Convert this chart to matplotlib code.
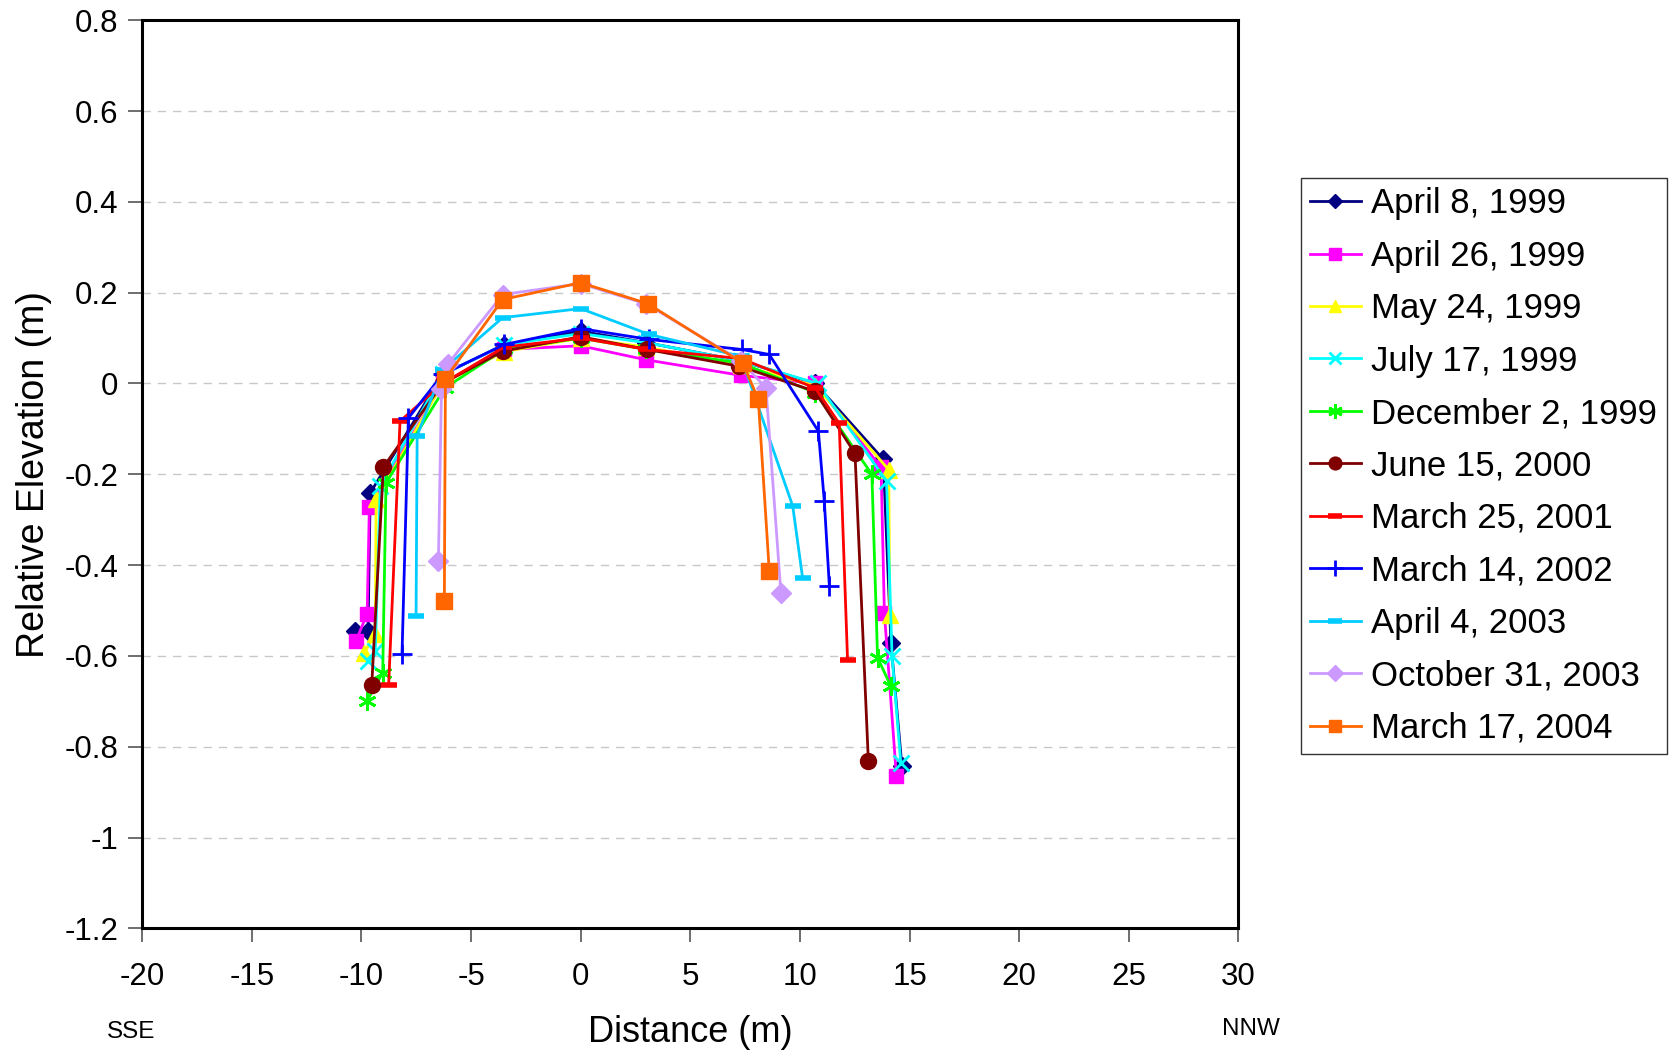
import matplotlib
matplotlib.use("Agg")
import matplotlib.pyplot as plt

plt.rcParams["font.family"] = ["Liberation Sans", "DejaVu Sans"]
plt.rcParams["axes.unicode_minus"] = False

# survey profiles: distance (m) and relative elevation (m)
apr8_1999_x = [-10.3, -9.7, -9.6, -6.3, -3.5, 0, 3, 7.3, 10.7, 13.8, 14.15, 14.65]
apr8_1999_y = [-0.546, -0.546, -0.241, 0.02, 0.085, 0.115, 0.09, 0.05, 0.0, -0.167, -0.571, -0.843]

apr26_1999_x = [-10.25, -9.74, -9.64, -6.3, -3.5, 0, 3, 7.3, 10.7, 13.7, 13.85, 14.4]
apr26_1999_y = [-0.567, -0.507, -0.272, 0.0, 0.075, 0.083, 0.052, 0.018, 0.0, -0.185, -0.505, -0.865]

may24_1999_x = [-9.87, -9.37, -9.33, -6.3, -3.5, 0, 3, 7.3, 10.7, 14.05, 14.1]
may24_1999_y = [-0.593, -0.551, -0.255, 0.0, 0.07, 0.1, 0.08, 0.04, -0.005, -0.19, -0.509]

jul17_1999_x = [-9.71, -9.37, -9.14, -6.3, -3.5, 0, 3, 7.3, 10.8, 13.95, 14.2, 14.6]
jul17_1999_y = [-0.612, -0.59, -0.225, 0.02, 0.085, 0.11, 0.09, 0.05, 0.0, -0.215, -0.6, -0.836]

dec2_1999_x = [-9.75, -9.03, -8.88, -6.2, -3.5, 0, 3, 7.3, 10.7, 13.28, 13.54, 14.15]
dec2_1999_y = [-0.7, -0.637, -0.219, -0.01, 0.075, 0.1, 0.075, 0.045, -0.02, -0.2, -0.604, -0.667]

jun15_2000_x = [-9.53, -9.0, -6.3, -3.56, 0, 3.02, 7.23, 10.68, 12.51, 13.12]
jun15_2000_y = [-0.663, -0.184, 0.0, 0.071, 0.103, 0.075, 0.038, -0.017, -0.154, -0.832]

mar25_2001_x = [-8.76, -8.24, -6.3, -3.5, 0, 3, 7.3, 10.7, 11.79, 12.17]
mar25_2001_y = [-0.664, -0.083, 0.0, 0.08, 0.1, 0.075, 0.055, -0.01, -0.088, -0.608]

mar14_2002_x = [-8.15, -7.86, -6.3, -3.48, 0, 3.13, 7.34, 8.6, 10.84, 11.11, 11.34]
mar14_2002_y = [-0.596, -0.076, 0.02, 0.086, 0.121, 0.097, 0.075, 0.064, -0.105, -0.259, -0.445]

apr4_2003_x = [-7.51, -7.46, -6.3, -3.56, 0, 3.13, 7.3, 9.67, 10.12]
apr4_2003_y = [-0.513, -0.115, 0.03, 0.145, 0.165, 0.108, 0.06, -0.27, -0.428]

oct31_2003_x = [-6.49, -6.35, -6.07, -3.56, 0, 3, 7.3, 8.45, 9.13]
oct31_2003_y = [-0.391, -0.013, 0.042, 0.196, 0.22, 0.175, 0.05, -0.01, -0.461]

mar17_2004_x = [-6.22, -6.17, -3.56, 0, 3.05, 7.39, 8.1, 8.6]
mar17_2004_y = [-0.478, 0.011, 0.185, 0.222, 0.176, 0.045, -0.035, -0.413]

series = [
    ("April 8, 1999", apr8_1999_x, apr8_1999_y, "#000080", "D", 9.5),
    ("April 26, 1999", apr26_1999_x, apr26_1999_y, "#FF00FF", "s", 10.5),
    ("May 24, 1999", may24_1999_x, may24_1999_y, "#FFFF00", "^", 11.5),
    ("July 17, 1999", jul17_1999_x, jul17_1999_y, "#00FFFF", "x", 11),
    ("December 2, 1999", dec2_1999_x, dec2_1999_y, "#00FF00", (6, 2, 0), 13),
    ("June 15, 2000", jun15_2000_x, jun15_2000_y, "#800000", "o", 11.5),
    ("March 25, 2001", mar25_2001_x, mar25_2001_y, "#FF0000", "_", 12),
    ("March 14, 2002", mar14_2002_x, mar14_2002_y, "#0000FF", "+", 14),
    ("April 4, 2003", apr4_2003_x, apr4_2003_y, "#00CCFF", "_", 12),
    ("October 31, 2003", oct31_2003_x, oct31_2003_y, "#CC99FF", "D", 10.5),
    ("March 17, 2004", mar17_2004_x, mar17_2004_y, "#FF6600", "s", 11.5),
]

fig = plt.figure(figsize=(16.77, 10.56), dpi=100)
ax = fig.add_axes([0.0848, 0.1209, 0.6537, 0.8599])

for label, xs, ys, color, marker, ms in series:
    if marker in ("x", "+", "_") or isinstance(marker, tuple):
        mew = 2.0 if marker != "_" else 4.0
    else:
        mew = 1.0
    ax.plot(xs, ys, color=color, lw=2.0, marker=marker, markersize=ms,
            markerfacecolor=color, markeredgecolor=color, markeredgewidth=mew,
            label=label)

ax.set_xlim(-20, 30)
ax.set_ylim(-1.2, 0.8)
ax.set_xticks(range(-20, 31, 5))
ax.set_yticks([-1.2, -1.0, -0.8, -0.6, -0.4, -0.2, 0, 0.2, 0.4, 0.6, 0.8])
ax.set_yticklabels(["-1.2", "-1", "-0.8", "-0.6", "-0.4", "-0.2", "0", "0.2", "0.4", "0.6", "0.8"])
ax.yaxis.grid(True, color="#c8c8c8", linestyle=(0, (6, 5)), linewidth=1.0)
ax.set_axisbelow(True)
for sp in ax.spines.values():
    sp.set_linewidth(2.2)
    sp.set_color("black")
ax.tick_params(axis="x", labelsize=22.5, length=10, width=1.2, color="#555555", pad=14)
ax.tick_params(axis="y", labelsize=22.5, length=10, width=1.2, color="#555555", pad=7)

ax.set_ylabel("Relative Elevation (m)", fontsize=27, labelpad=9)
fig.text(0.4116, 1 - 1032 / 1056, "Distance (m)", fontsize=26, ha="center", va="center")
fig.text(131.5 / 1677, 1 - 1032 / 1056, "SSE", fontsize=17.5, ha="center", va="center")
fig.text(1250.8 / 1677, 1 - 1029 / 1056, "NNW", fontsize=17.5, ha="center", va="center")

leg = ax.legend(loc="upper left", bbox_to_anchor=(0.7755, 0.8319), bbox_transform=fig.transFigure,
                fontsize=25, frameon=True, fancybox=False, shadow=False, borderaxespad=0,
                handlelength=1.45, handletextpad=0.3, labelspacing=0.56, borderpad=0.28,
                markerscale=0.8)
leg.get_frame().set_edgecolor("black")
leg.get_frame().set_linewidth(1.0)

fig.savefig("out.png", dpi=100)
